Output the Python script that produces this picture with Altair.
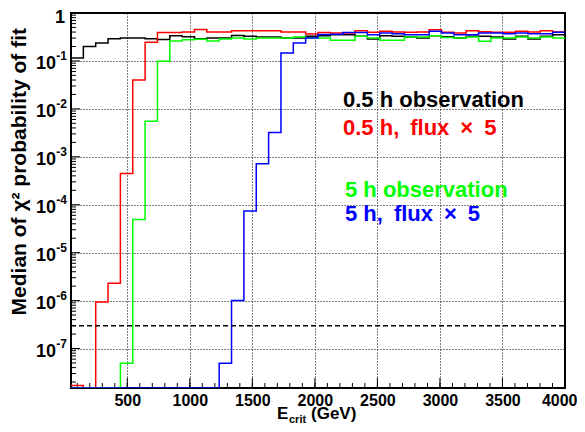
import altair as alt
import pandas as pd
import numpy as np

# ---------------- data ----------------
X_MIN, X_MAX, N_BINS = 50, 4000, 40
Y_MIN, Y_MAX = 1.5e-8, 1.0
BELOW = 1e-10          # median below the plotted range (drawn on the frame)
CUT = 3e-7             # dashed reference level

black = [0.115, 0.20, 0.237, 0.29, 0.30, 0.30, 0.29, 0.28, 0.336, 0.32,
         0.29, 0.30, 0.30, 0.34, 0.326, 0.316, 0.316, 0.301, 0.301, 0.326,
         0.335, 0.353, 0.353, 0.326, 0.287, 0.337, 0.326, 0.316, 0.301, 0.337,
         0.32, 0.301, 0.326, 0.326, 0.316, 0.287, 0.326, 0.287, 0.326, 0.353]

red = [1.7e-8, BELOW, 9.3e-7, 2.3e-6, 4.5e-4, 0.04, 0.245, 0.39, 0.39, 0.40,
       0.45, 0.40, 0.40, 0.428, 0.428, 0.428, 0.428, 0.40, 0.40, 0.365,
       0.39, 0.383, 0.383, 0.428, 0.395, 0.414, 0.401, 0.395, 0.401, 0.449,
       0.398, 0.383, 0.428, 0.408, 0.395, 0.395, 0.414, 0.401, 0.428, 0.401]

green = [BELOW, BELOW, BELOW, BELOW, 4.9e-8, 4.9e-5, 5.5e-3, 0.098, 0.26, 0.278,
         0.285, 0.262, 0.287, 0.301, 0.287, 0.301, 0.301, 0.301, 0.316, 0.30,
         0.301, 0.269, 0.269, 0.326, 0.301, 0.269, 0.269, 0.316, 0.316, 0.337,
         0.31, 0.301, 0.316, 0.256, 0.30, 0.301, 0.316, 0.301, 0.316, 0.301]

blue = [BELOW] * 12 + [4.9e-8, 1e-6, 7.4e-5, 7.2e-4, 3.2e-3, 0.147, 0.237, 0.301,
                       0.355, 0.36, 0.39, 0.39, 0.353, 0.383, 0.371, 0.353, 0.353, 0.414,
                       0.383, 0.353, 0.353, 0.383, 0.383, 0.371, 0.383, 0.371, 0.371, 0.395]

series_names = ["0.5 h observation", "0.5 h,\u2002flux\u2002\u00d7\u20025",
                "5 h observation", "5 h,\u2002flux\u2002\u00d7\u20025"]
series_colors = ["#000000", "#ff0000", "#00ff00", "#0000ff"]
series_values = [black, red, green, blue]

x_label_values = [500, 1000, 1500, 2000, 2500, 3000, 3500, 4000]
x_minor_values = list(range(100, 4000, 100))
y_major_values = [1e-1, 1e-2, 1e-3, 1e-4, 1e-5, 1e-6, 1e-7]
y_exponents = ["-1", "-2", "-3", "-4", "-5", "-6", "-7"]
y_minor_values = [m * 10.0 ** k for k in range(-8, 0) for m in range(2, 10) if m * 10.0 ** k >= Y_MIN]

FONT = "Liberation Sans"
W, H = 494, 375

# ---------------- scales & shared axes ----------------
xscale = alt.Scale(domain=[X_MIN, X_MAX], nice=False, zero=False)
yscale = alt.Scale(type="log", domain=[Y_MIN, Y_MAX], nice=False, clamp=True)

X_AXIS = alt.Axis(
    values=x_label_values, format="d", grid=True, gridDash=[1, 2], gridColor="black", gridOpacity=1,
    gridWidth=1, ticks=False, domain=False, labelFont=FONT, labelFontWeight="bold",
    labelFontSize=16, labelColor="black", labelPadding=4, labelFlush=True, labelFlushOffset=12,
    labelOverlap=False, title=None)
Y_AXIS = alt.Axis(
    values=y_major_values, grid=True, gridDash=[1, 2], gridColor="black", gridOpacity=1,
    gridWidth=1, ticks=False, domain=False, labels=False, title=None)


def X(field):
    return alt.X(field, scale=xscale, axis=X_AXIS)


def Y(field):
    return alt.Y(field, scale=yscale, axis=Y_AXIS)


edges = np.linspace(X_MIN, X_MAX, N_BINS + 1)


def step_df(vals):
    return pd.DataFrame({"E": edges, "p": list(vals) + [vals[-1]]})


# ---------------- inward ticks ----------------
xt_minor = alt.Chart(pd.DataFrame({"E": x_minor_values})).mark_rule(color="black", strokeWidth=1).encode(
    x=X("E:Q"), y=alt.value(H), y2=alt.value(H - 5))
xt_major = alt.Chart(pd.DataFrame({"E": x_label_values[:-1]})).mark_rule(color="black", strokeWidth=1).encode(
    x=X("E:Q"), y=alt.value(H), y2=alt.value(H - 10))
yt_minor = alt.Chart(pd.DataFrame({"p": y_minor_values})).mark_rule(color="black", strokeWidth=1).encode(
    y=Y("p:Q"), x=alt.value(0), x2=alt.value(5))
yt_major = alt.Chart(pd.DataFrame({"p": y_major_values})).mark_rule(color="black", strokeWidth=1).encode(
    y=Y("p:Q"), x=alt.value(0), x2=alt.value(9))

# ---------------- y tick labels: 1, 10^-k ----------------
ylab_df = pd.DataFrame({"p": y_major_values, "e": y_exponents})
ylab_ten = alt.Chart(ylab_df).mark_text(
    align="right", baseline="middle", font=FONT, fontWeight="bold", fontSize=18, dx=-15, dy=3,
    color="black").encode(y=Y("p:Q"), x=alt.value(0), text=alt.value("10"))
ylab_exp = alt.Chart(ylab_df).mark_text(
    align="right", baseline="middle", font=FONT, fontWeight="bold", fontSize=12, dx=-4, dy=-5,
    color="black").encode(y=Y("p:Q"), x=alt.value(0), text="e:N")
ylab_one = alt.Chart(pd.DataFrame({"p": [Y_MAX]})).mark_text(
    align="right", baseline="middle", font=FONT, fontWeight="bold", fontSize=18, dx=-6, dy=5,
    color="black").encode(y=Y("p:Q"), x=alt.value(0), text=alt.value("1"))

# ---------------- histograms ----------------
hist_layers = []
for vals, col in zip(series_values, series_colors):
    hist_layers.append(
        alt.Chart(step_df(vals)).mark_line(interpolate="step-after", color=col, strokeWidth=1.5, clip=True).encode(
            x=X("E:Q"), y=Y("p:Q"))
    )

cut_line = alt.Chart(pd.DataFrame({"p": [CUT]})).mark_rule(
    color="black", strokeWidth=1.5, strokeDash=[5, 3]).encode(
    y=Y("p:Q"), x=alt.value(0), x2=alt.value(W))

# ---------------- legend texts ----------------
legend_pos = [(272, 87), (272, 115), (274, 177), (274, 201)]
legend_layers = []
for name, col, (lx, ly) in zip(series_names, series_colors, legend_pos):
    legend_layers.append(
        alt.Chart(pd.DataFrame({"t": [name]})).mark_text(
            align="left", baseline="middle", font=FONT, fontWeight="bold", fontSize=22, color=col
        ).encode(x=alt.value(lx), y=alt.value(ly), text="t:N")
    )

# ---------------- axis titles ----------------
title_bits = []
title_bits.append(alt.Chart(pd.DataFrame({"t": ["Median of \u03c7\u00b2 probability of fit"]})).mark_text(
    align="right", baseline="middle", angle=270, font=FONT, fontWeight="bold", fontSize=21, color="black"
).encode(x=alt.value(-51), y=alt.value(15), text="t:N"))
title_bits.append(alt.Chart(pd.DataFrame({"t": ["E"]})).mark_text(
    align="left", baseline="alphabetic", font=FONT, fontWeight="bold", fontSize=17, color="black"
).encode(x=alt.value(206), y=alt.value(406), text="t:N"))
title_bits.append(alt.Chart(pd.DataFrame({"t": ["crit"]})).mark_text(
    align="left", baseline="alphabetic", font=FONT, fontWeight="bold", fontSize=11, color="black"
).encode(x=alt.value(218), y=alt.value(409.5), text="t:N"))
title_bits.append(alt.Chart(pd.DataFrame({"t": ["(GeV)"]})).mark_text(
    align="left", baseline="alphabetic", font=FONT, fontWeight="bold", fontSize=17, color="black"
).encode(x=alt.value(240), y=alt.value(406), text="t:N"))

chart = alt.layer(
    xt_minor, xt_major, yt_minor, yt_major,
    *hist_layers, cut_line,
    ylab_ten, ylab_exp, ylab_one,
    *legend_layers, *title_bits,
).properties(
    width=W, height=H,
    padding={"left": 63, "top": 5, "right": 12, "bottom": 36},
    autosize=alt.AutoSizeParams(type="none"),
    background="white",
).configure_view(stroke="black", strokeWidth=2)

chart.save("out.html", embed_options={"renderer": "svg", "actions": False})
